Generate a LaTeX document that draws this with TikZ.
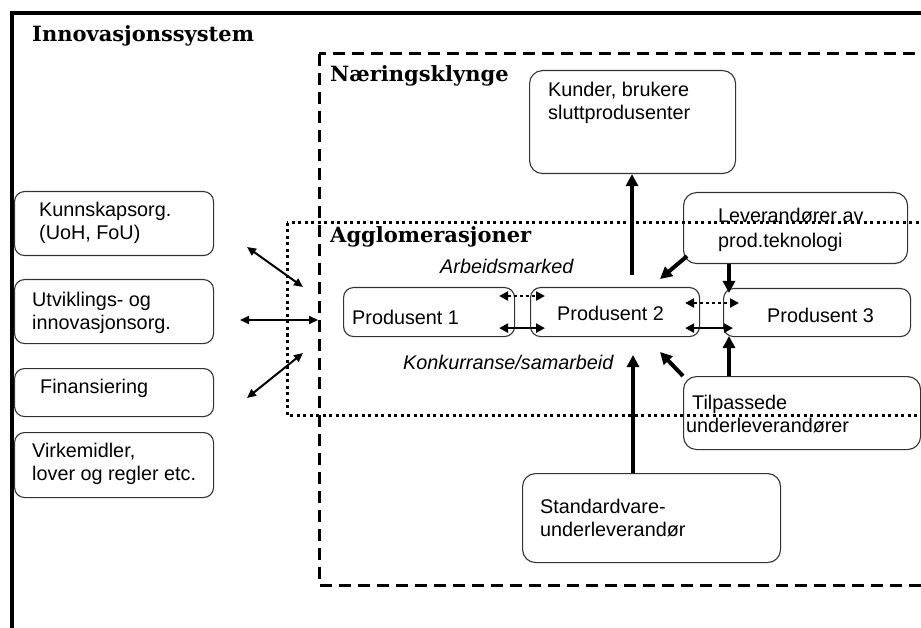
\documentclass[tikz,border=0pt]{standalone}
\usepackage{fontspec}
\setmainfont{Liberation Sans}
\newfontfamily\headfont{DejaVu Serif}
\usetikzlibrary{arrows.meta,calc}
\begin{document}
\begin{tikzpicture}[x=1pt,y=-1pt,
  box/.style={draw=black!80, line width=1.1pt, fill=white, rounded corners=10pt, inner sep=0pt, anchor=north west},
  bigbox/.style={box, rounded corners=13pt},
  txt/.style={anchor=north west, inner sep=0pt, align=left, font=\fontsize{19.8}{22.5}\selectfont},
  itxt/.style={anchor=north west, inner sep=0pt, font=\fontsize{19.8}{22.5}\selectfont\itshape},
  head/.style={anchor=base west, inner sep=0pt, font=\fontsize{21}{24}\selectfont\headfont\bfseries},
  bigarrow/.style={line width=4pt, -{Triangle[length=12pt,width=12pt]}},
  soldbl/.style={line width=2.5pt, {Triangle[length=9pt,width=9pt]}-{Triangle[length=9pt,width=9pt]}},
  dotdbl/.style={soldbl, dash pattern=on 3pt off 3pt},
  thindbl/.style={line width=2pt, {Triangle[length=9pt,width=8pt]}-{Triangle[length=9pt,width=8pt]}},
  dashedframe/.style={line width=3pt, dash pattern=on 12pt off 7pt},
  dottedframe/.style={line width=3pt, dash pattern=on 3pt off 3.5pt}
]
\clip (0,0) rectangle (921,628);

% dashed cluster frame
\draw[dashedframe] (319,54) rectangle (960,585);

% left boxes
\node[box, minimum width=199pt, minimum height=64pt] (kunn) at (14,191) {};
\node[txt] (tkunn) at (39,202) {Kunnskapsorg.\\(UoH, FoU)};
\node[box, minimum width=199pt, minimum height=64pt] (utv) at (14,279) {};
\node[txt] (tutv) at (32,292) {Utviklings- og\\innovasjonsorg.};
\node[box, minimum width=199pt, minimum height=48pt] (fin) at (14,368) {};
\node[txt] (tfin) at (40,379) {Finansiering};
\node[box, minimum width=199pt, minimum height=65pt] (virk) at (14,432) {};
\node[txt] (tvirk) at (32,443) {Virkemidler,\\lover og regler etc.};

% cluster boxes
\node[bigbox, minimum width=206pt, minimum height=103pt] (kunder) at (529,70) {};
\node[txt] (tkunder) at (548,82) {Kunder, brukere\\sluttprodusenter};
\node[bigbox, minimum width=224pt, minimum height=71pt] (lev) at (683,192) {};
\node[txt, font=\fontsize{19.8}{25}\selectfont] (tlev) at (718,208) {Leverandører av\\prod.teknologi};
\node[box, minimum width=171pt, minimum height=49pt] (p1) at (343,287) {};
\node[txt] (tp1) at (352,310) {Produsent 1};
\node[box, minimum width=169pt, minimum height=49pt] (p2) at (530,287) {};
\node[txt] (tp2) at (557,306) {Produsent 2};
\node[box, minimum width=187pt, minimum height=48pt] (p3) at (723,288) {};
\node[txt] (tp3) at (767,308) {Produsent 3};
\node[bigbox, minimum width=237pt, minimum height=73pt] (tilp) at (683,376) {};
\node[txt, font=\fontsize{19.8}{23}\selectfont] (ttilp) at (686,395) {\hspace*{6pt}Tilpassede\\underleverandører};
\node[bigbox, minimum width=258pt, minimum height=89pt] (std) at (522,473) {};
\node[txt, font=\fontsize{19.8}{23}\selectfont] (tstd) at (540,499) {Standardvare-\\underleverandør};

% headings and labels
\node[head] (title) at (32,42) {Innovasjonssystem};
\node[head] (naer) at (330,82) {Næringsklynge};
\node[head] (aggl) at (330,243) {Agglomerasjoner};
\node[itxt] (arb) at (440,259) {Arbeidsmarked};
\node[itxt] (konk) at (403,355) {Konkurranse/samarbeid};

% dotted agglomeration frame
\draw[dottedframe] (287,223) rectangle (960,415);

% outer frame
\draw[line width=4pt] (12,13.5) rectangle (960,660);

% thick arrows
\coordinate (a1) at (632,275);
\draw[bigarrow] (a1) -- (a1 |- kunder.south);
\coordinate (a2) at (633,355);
\draw[bigarrow] (a2 |- std.north) -- (a2);
\coordinate (a3) at (729,293);
\draw[bigarrow] (a3 |- lev.south) -- (a3);
\coordinate (a4) at (729,336);
\draw[bigarrow] (a4 |- tilp.north) -- (a4);
\coordinate (a5) at (660,279);
\draw[bigarrow] ($(lev.south west)+(4,-8)$) -- (a5);
\coordinate (a6) at (660,352);
\draw[bigarrow] (tilp.north west) -- (a6);

% producer double arrows
\draw[dotdbl] ([xshift=-16pt,yshift=-9pt]p1.north east) -- ([xshift=15pt,yshift=-9pt]p2.north west);
\draw[soldbl] ([xshift=-16pt,yshift=9pt]p1.south east) -- ([xshift=15pt,yshift=9pt]p2.south west);
\draw[dotdbl] ([xshift=-15pt,yshift=-16pt]p2.north east) -- ([xshift=16pt,yshift=-15pt]p3.north west);
\draw[soldbl] ([xshift=-15pt,yshift=9pt]p2.south east) -- ([xshift=10pt,yshift=9pt]p3.south west);

% left thin double arrows
\coordinate (l1a) at (247,247);
\coordinate (l1b) at (303,287);
\coordinate (l2a) at (240,320);
\coordinate (l2b) at (318,320);
\coordinate (l3a) at (247,398);
\coordinate (l3b) at (303,353);
\draw[thindbl] (l1a) -- (l1b);
\draw[thindbl] (l2a) -- (l2b);
\draw[thindbl] (l3a) -- (l3b);
\end{tikzpicture}
\end{document}
